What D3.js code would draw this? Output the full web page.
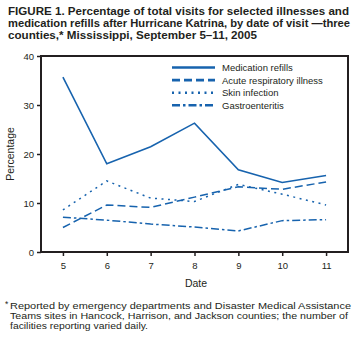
<!DOCTYPE html>
<html>
<head>
<meta charset="utf-8">
<script src="https://cdn.jsdelivr.net/npm/d3@7"></script>
<style>
  body { margin: 0; background: #fff; }
  svg { display: block; font-family: "Liberation Sans", Arial, sans-serif; }
</style>
</head>
<body>
<div id="chart"></div>
<script>
// Values, by date of visit.
var dates = [5, 6, 7, 8, 9, 10, 11];
var medicationRefills = [35.7, 18.0, 21.5, 26.3, 16.8, 14.2, 15.6];
var acuteRespiratory  = [5.0, 9.6, 9.1, 11.2, 13.3, 12.8, 14.3];
var skinInfection     = [8.6, 14.5, 11.0, 10.3, 13.8, 11.8, 9.6];
var gastroenteritis   = [7.1, 6.5, 5.7, 5.1, 4.3, 6.4, 6.6];
var seriesNames = ["Medication refills", "Acute respiratory illness", "Skin infection", "Gastroenteritis"];
var yTicks = [0, 10, 20, 30, 40];

var W = 358, H = 344;
var margin = {left: 41, right: 10, top: 56, bottom: 92};
var BLUE = "#1763ae";
var INK = "#231f20";

var svg = d3.select("#chart").append("svg")
    .attr("width", W)
    .attr("height", H);

/**
  * Writes a block of lines, each squeezed to the width it has in the figure.
  */
function textBlock(lines, widths, x0, y0, step, size, weight){
    var t = svg.append("text")
        .attr("font-size", size)
        .attr("font-weight", weight)
        .attr("fill", INK);
    t.selectAll("tspan").data(lines).enter().append("tspan")
        .attr("x", x0)
        .attr("y", function(d, i){ return y0 + i * step; })
        .attr("textLength", function(d, i){ return widths[i]; })
        .attr("lengthAdjust", "spacingAndGlyphs")
        .text(function(d){ return d; });
    return t;
}

// title
var title = [
  "FIGURE 1. Percentage of total visits for selected illnesses and",
  "medication refills after Hurricane Katrina, by date of visit \u2014three",
  "counties,* Mississippi, September 5\u201311, 2005"
];
textBlock(title, [341, 342, 249], 8, 14.6, 12.3, 11, "bold");

var x = d3.scaleLinear().domain([4.5, 11.5]).range([margin.left, W - margin.right]);
var y = d3.scaleLinear().domain([0, 40]).range([H - margin.bottom, margin.top]);

// frame
svg.append("rect")
    .attr("x", x(4.5))
    .attr("y", y(40))
    .attr("width", x(11.5) - x(4.5))
    .attr("height", y(0) - y(40))
    .attr("fill", "none")
    .attr("stroke", INK)
    .attr("stroke-width", 2);

// axes
var yAxis = svg.append("g")
    .attr("transform", "translate(" + x(4.5) + ",0)")
    .call(d3.axisLeft(y).tickValues(yTicks).tickSize(4).tickPadding(3));
var xAxis = svg.append("g")
    .attr("transform", "translate(0," + y(0) + ")")
    .call(d3.axisBottom(x).tickValues(dates).tickFormat(d3.format("d")).tickSize(4).tickPadding(6));
[xAxis, yAxis].forEach(function(g){
    g.select(".domain").remove();
    g.selectAll("line").attr("stroke", INK).attr("stroke-width", 1.5);
    g.selectAll("text").attr("font-size", 9.5).attr("fill", INK)
        .attr("font-family", "Liberation Sans, Arial, sans-serif");
});

svg.append("text")
    .attr("transform", "translate(14," + (y(20)) + ") rotate(-90)")
    .attr("text-anchor", "middle")
    .attr("font-size", 10.5)
    .attr("fill", INK)
    .text("Percentage");
svg.append("text")
    .attr("x", 196)
    .attr("y", 287)
    .attr("text-anchor", "middle")
    .attr("font-size", 10.5)
    .attr("fill", INK)
    .text("Date");

// lines
var dashes = [null, "8,4", "2,4.5", "8,3,2.5,3"];
var allSeries = [medicationRefills, acuteRespiratory, skinInfection, gastroenteritis];
var line = d3.line()
    .x(function(d, i){ return x(dates[i]); })
    .y(function(d){ return y(d); });

allSeries.forEach(function(values, s){
    svg.append("path")
        .datum(values)
        .attr("d", line)
        .attr("fill", "none")
        .attr("stroke", BLUE)
        .attr("stroke-width", s == 0 ? 1.6 : 1.5)
        .attr("stroke-dasharray", dashes[s]);
});

// legend
var legend = svg.append("g");
seriesNames.forEach(function(name, i){
    var ly = 67.5 + i * 12.6;
    legend.append("line")
        .attr("x1", 172).attr("x2", 215)
        .attr("y1", ly).attr("y2", ly)
        .attr("stroke", BLUE)
        .attr("stroke-width", 2.6)
        .attr("stroke-dasharray", dashes[i]);
    legend.append("text")
        .attr("x", 222)
        .attr("y", ly + 3.5)
        .attr("font-size", 9.5)
        .attr("fill", INK)
        .text(name);
});

// footnote
var foot = [
  "Reported by emergency departments and Disaster Medical Assistance",
  "Teams sites in Hancock, Harrison, and Jackson counties; the number of",
  "facilities reporting varied daily."
];
svg.append("text")
    .attr("x", 5).attr("y", 307)
    .attr("font-size", 8.5).attr("fill", INK)
    .text("*");
textBlock(foot, [341, 338, 138], 10, 309, 9.8, 9.5, "normal");
</script>
</body>
</html>
